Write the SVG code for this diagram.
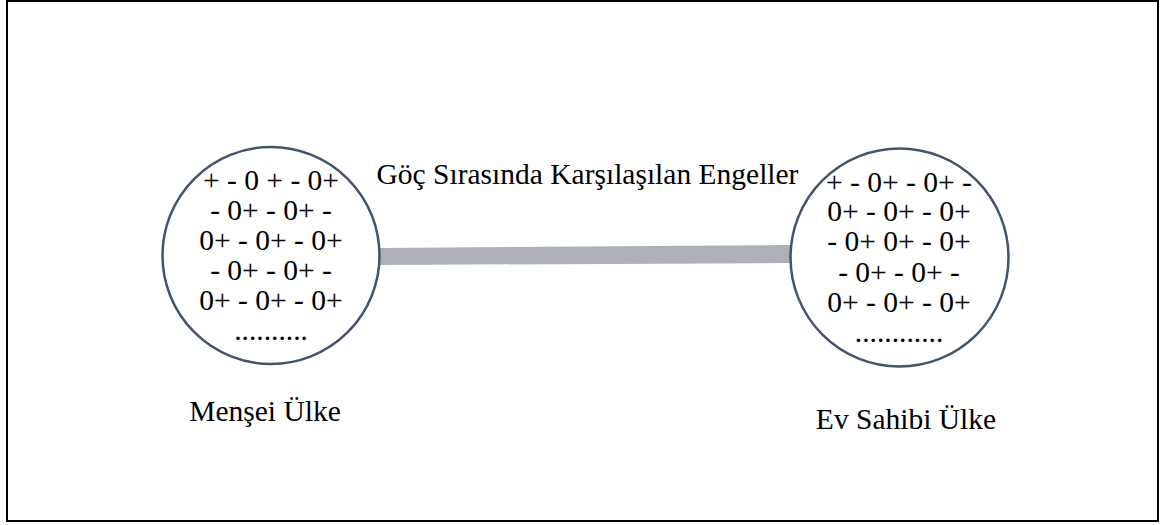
<svg xmlns="http://www.w3.org/2000/svg" width="1160" height="525" viewBox="0 0 1160 525">
<style>
text{font-family:'Liberation Serif','Times New Roman','DejaVu Serif',serif;font-size:29.5px;fill:#000;text-anchor:middle}
.c{fill:#fff;stroke:#44546a;stroke-width:2.5}
</style>
<rect x="0" y="0" width="1160" height="525" fill="#fff"/>
<rect x="7" y="1" width="1151" height="520" fill="none" stroke="#000" stroke-width="2"/>
<g id="connectors">
<polygon points="380,248 791,245 791,263 380,265" fill="#adb0b6"/>
</g>
<g id="title">
<text x="587.5" y="184">Göç Sırasında Karşılaşılan Engeller</text>
</g>
<g id="mensei">
<circle class="c" cx="271" cy="255.5" r="108.5"/>
<text x="271" y="190">+ - 0 + - 0+</text>
<text x="271" y="220">- 0+ - 0+ -</text>
<text x="271" y="250">0+ - 0+ - 0+</text>
<text x="271" y="280">- 0+ - 0+ -</text>
<text x="271" y="310">0+ - 0+ - 0+</text>
<text x="271" y="340">..........</text>
<text x="265" y="421">Menşei Ülke</text>
</g>
<g id="evsahibi">
<circle class="c" cx="899.5" cy="257.5" r="109"/>
<text x="899" y="192">+ - 0+ - 0+ -</text>
<text x="899" y="221">0+ - 0+ - 0+</text>
<text x="899" y="251">- 0+ 0+ - 0+</text>
<text x="899" y="282">- 0+ - 0+ -</text>
<text x="899" y="312">0+ - 0+ - 0+</text>
<text x="899" y="342">............</text>
<text x="906" y="429">Ev Sahibi Ülke</text>
</g>
</svg>
